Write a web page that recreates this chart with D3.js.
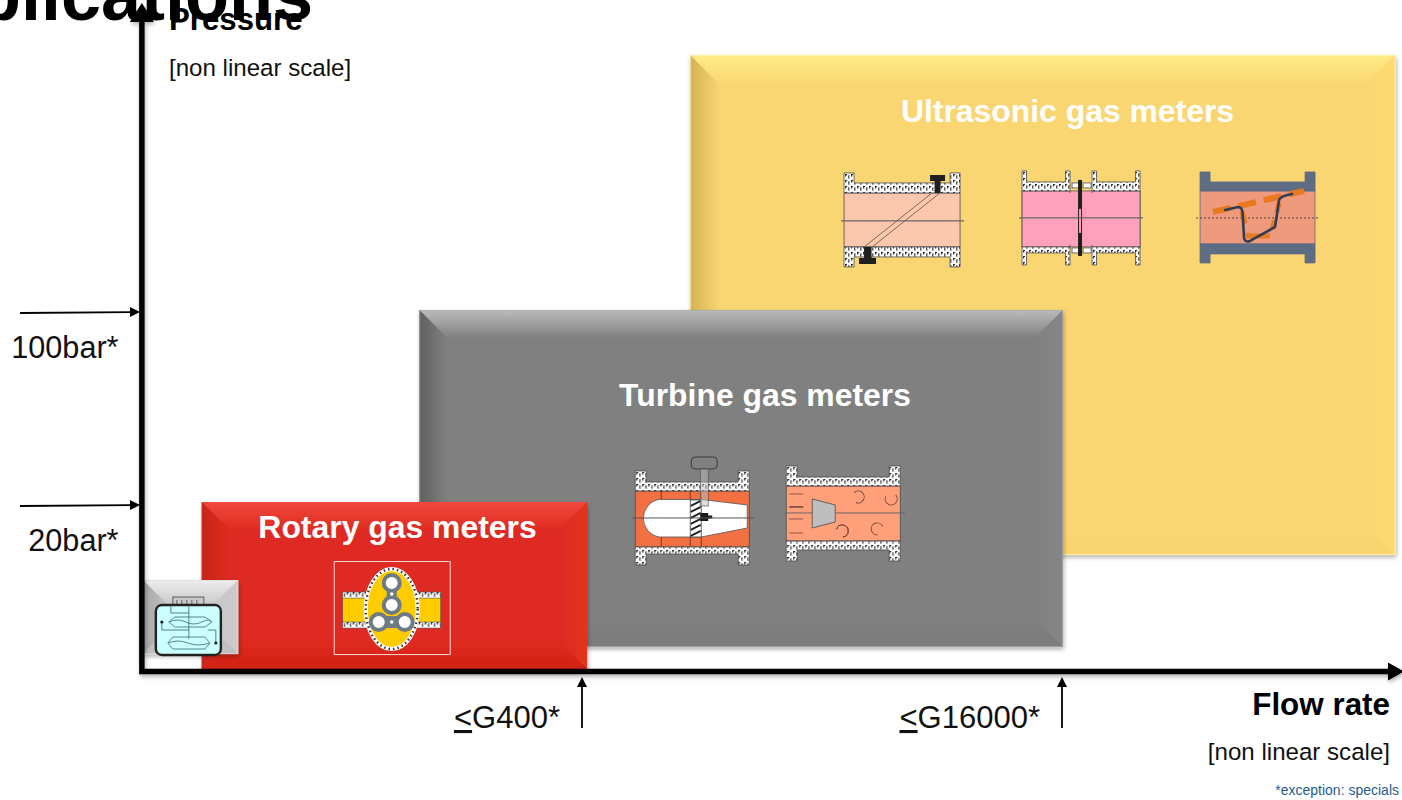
<!DOCTYPE html>
<html>
<head>
<meta charset="utf-8">
<title>Gas meter applications</title>
<script src="https://cdn.jsdelivr.net/npm/d3@7/dist/d3.min.js"></script>
<style>
  html, body { margin: 0; padding: 0; background: #fff; overflow: hidden; }
  text { font-family: "Liberation Sans", Arial, sans-serif; }
</style>
</head>
<body>
<svg id="chart" width="1402" height="800"></svg>
<script>
// Operating envelope of each meter family: flow (G size) against pressure (bar)
const meterLabels   = ["Ultrasonic gas meters", "Turbine gas meters", "Rotary gas meters", ""];
const flowFrom      = [889, 109, 20.2, 12.8];
const flowTo        = [210000, 16000, 400, 26.8];
const pressureFrom  = [13.18, 6.12, 5.09, 5.77];
const pressureTo    = [853, 101.7, 20.5, 10.7];

const pressureTicks = [100, 20];
const pressureTickLabels = ["100bar*", "20bar*"];
const flowTicks     = [400, 16000];
const flowTickLabels = ["G400*", "G16000*"];

const svg = d3.select("#chart");
const defs = svg.append("defs");

// Both axes are logarithmic, anchored on the two labelled stops
const x = d3.scaleLog().domain([400, 16000]).range([587, 1063]);
const y = d3.scaleLog().domain([20, 100]).range([505, 312]);

const plateStyles = [
  { face: "#F9D672", top: "#FFEC86", left: "#D6B154", right: "#FFDA6E", bottom: "#FAD56E", rim: "#FFF4B0", bevel: 30 },
  { face: "#808080", top: "#BBBBBB", left: "#606060", right: "#868686", bottom: "#7B7B7B", rim: "#ABABAB", bevel: 28 },
  { face: "#DE2B20", top: "#F2483E", left: "#C9261B", right: "#E2321F", bottom: "#D32014", rim: null, bevel: 28 },
  { face: "#C6C6C6", top: "#EDEDED", left: "#A6A6A6", right: "#CCCCCC", bottom: "#BDBDBD", rim: "#E0E0E0", bevel: 27 }
];

// Soft shadow under the plates and axes
const shadow = defs.append("filter").attr("id", "plateShadow")
  .attr("x", "-5%").attr("y", "-5%").attr("width", "110%").attr("height", "112%");
shadow.append("feDropShadow").attr("dx", 1).attr("dy", 2.5)
  .attr("stdDeviation", 2).attr("flood-color", "#000").attr("flood-opacity", 0.3);

// Speckled wall texture for the meter bodies
const wall = defs.append("pattern").attr("id", "wallTexture").attr("patternUnits", "userSpaceOnUse")
  .attr("width", 6).attr("height", 6);
wall.append("rect").attr("width", 6).attr("height", 6).attr("fill", "#fff");
wall.append("path").attr("d", "M1 1v2.6h1.2V2h.8V1zM4 2.4h1.6v1H4.6v1h1v1H4z")
  .attr("fill", "#222");

function gradient(id, dir, from, to) {
  const g = defs.append("linearGradient").attr("id", id);
  const ends = { top: [0, 0, 0, 1], bottom: [0, 1, 0, 0], left: [0, 0, 1, 0], right: [1, 0, 0, 0] }[dir];
  g.attr("x1", ends[0]).attr("y1", ends[1]).attr("x2", ends[2]).attr("y2", ends[3]);
  g.append("stop").attr("offset", 0).attr("stop-color", from);
  g.append("stop").attr("offset", 1).attr("stop-color", to);
}

function bevelPlate(i) {
  const x0 = x(flowFrom[i]), x1 = x(flowTo[i]);
  const y0 = y(pressureTo[i]), y1 = y(pressureFrom[i]);
  const st = plateStyles[i], b = st.bevel;
  const g = svg.append("g").attr("filter", "url(#plateShadow)");

  g.append("rect").attr("x", x0).attr("y", y0).attr("width", x1 - x0).attr("height", y1 - y0).attr("fill", st.face);
  const sides = {
    top:    [[x0, y0], [x1, y0], [x1 - b, y0 + b], [x0 + b, y0 + b]],
    left:   [[x0, y0], [x0 + b, y0 + b], [x0 + b, y1 - b], [x0, y1]],
    right:  [[x1, y0], [x1, y1], [x1 - b, y1 - b], [x1 - b, y0 + b]],
    bottom: [[x0, y1], [x0 + b, y1 - b], [x1 - b, y1 - b], [x1, y1]]
  };
  Object.entries(sides).forEach(([side, pts]) => {
    gradient(`${side}${i}`, side, st[side], st.face);
    g.append("polygon").attr("points", pts.join(" ")).attr("fill", `url(#${side}${i})`);
  });
  if (st.rim) {
    g.append("rect").attr("x", x0 + 0.5).attr("y", y0 + 0.5).attr("width", x1 - x0 - 1).attr("height", y1 - y0 - 1)
      .attr("fill", "none").attr("stroke", st.rim).attr("stroke-opacity", 0.75);
  }
}

// Title running off the top-left corner
svg.append("text").attr("x", 313).attr("y", 20).attr("text-anchor", "end")
  .attr("font-size", 72).attr("font-weight", 700).attr("fill", "#000").text("Applications");

[0, 1, 2, 3].forEach(bevelPlate);

// Flanged pipe section: hatched or solid walls around a coloured bore
function flanged(g, o) {
  const { w, h, fl, wt, bt, bb, wb, bore, wallFill = "url(#wallTexture)", edge = "#4a4a4a" } = o;
  g.append("rect").attr("x", 0).attr("y", bt).attr("width", w).attr("height", bb - bt)
    .attr("fill", bore).attr("stroke", edge).attr("stroke-width", 0.8);
  const upper = [[0, 0], [fl, 0], [fl, wt], [w - fl, wt], [w - fl, 0], [w, 0], [w, bt], [0, bt]];
  const lower = [[0, h], [fl, h], [fl, wb], [w - fl, wb], [w - fl, h], [w, h], [w, bb], [0, bb]];
  [upper, lower].forEach(p => g.append("polygon").attr("points", p.join(" "))
    .attr("fill", wallFill).attr("stroke", edge).attr("stroke-width", 0.8));
}
function line(g, x1, y1, x2, y2, stroke, width, dash) {
  return g.append("line").attr("x1", x1).attr("y1", y1).attr("x2", x2).attr("y2", y2)
    .attr("stroke", stroke).attr("stroke-width", width).attr("stroke-dasharray", dash || null);
}
function poly(g, pts, fill, stroke, width) {
  return g.append("polygon").attr("points", pts.join(" ")).attr("fill", fill)
    .attr("stroke", stroke || "none").attr("stroke-width", width || 0);
}
const icon = (px, py) => svg.append("g").attr("transform", `translate(${px},${py})`);

// Ultrasonic: single diagonal path
(function () {
  const g = icon(x(flowFrom[0]) + 154, y(pressureTo[0]) + 118);
  flanged(g, { w: 116, h: 94, fl: 10, wt: 10, bt: 20, bb: 74, wb: 84, bore: "#FDC7AE" });
  line(g, 88, 20, 20, 74, "#7d6a5e", 1);
  line(g, 96, 20, 28, 74, "#7d6a5e", 1);
  line(g, -3, 48, 120, 48, "#666", 1.2);
  g.append("path").attr("fill", "#1f1f1f").attr("d", "M86 2h15v6h-4.5v12h-6V8H86z");
  g.append("path").attr("fill", "#1f1f1f").attr("d", "M20 74h7.5v11h4.5v6H15v-6h5z");
})();

// Ultrasonic: wafer with central transducer ring
(function () {
  const g = icon(x(flowFrom[0]) + 332, y(pressureTo[0]) + 116);
  g.append("rect").attr("x", 0).attr("y", 20).attr("width", 118).attr("height", 56)
    .attr("fill", "#FFA1BC").attr("stroke", "#555").attr("stroke-width", 0.8);
  const L = icon(x(flowFrom[0]) + 332, y(pressureTo[0]) + 116);
  const R = icon(x(flowFrom[0]) + 402, y(pressureTo[0]) + 116);
  [L, R].forEach(p => {
    flanged(p, { w: 48, h: 94, fl: 4.5, wt: 11, bt: 20, bb: 76, wb: 82, bore: "#FFA1BC" });
  });
  const core = icon(x(flowFrom[0]) + 332, y(pressureTo[0]) + 116);
  core.append("rect").attr("x", 44).attr("y", 22).attr("width", 30).attr("height", 52).attr("fill", "#FFA1BC");
  [[50, 12], [61, 12], [50, 77], [61, 77]].forEach(([bx, by]) =>
    core.append("rect").attr("x", bx).attr("y", by).attr("width", 8).attr("height", 5)
      .attr("fill", "#fff").attr("stroke", "#555").attr("stroke-width", 0.8));
  core.append("rect").attr("x", 56).attr("y", 9).attr("width", 4).attr("height", 76).attr("fill", "#1f1f1f");
  core.append("rect").attr("x", 57).attr("y", 38).attr("width", 2).attr("height", 24).attr("fill", "#FFA1BC");
  line(core, -3, 47, 121, 47, "#666", 1.2);
})();

// Ultrasonic: reflective multi-path body
(function () {
  const g = icon(x(flowFrom[0]) + 510, y(pressureTo[0]) + 117);
  flanged(g, { w: 115, h: 91, fl: 10, wt: 10, bt: 19, bb: 72, wb: 82, bore: "#EF9A7D", wallFill: "#5E6C84", edge: "#5E6C84" });
  line(g, -4, 46, 120, 46, "#444", 1, "2 2");
  line(g, 13, 40, 104, 19, "#E8791F", 6, "18 8");
  line(g, 42, 40, 48, 62, "#E8791F", 5, "12 10");
  line(g, 46, 64, 70, 64, "#E8791F", 5);
  line(g, 72, 58, 80, 28, "#E8791F", 5, "10 8");
  g.append("path").attr("fill", "none").attr("stroke", "#2F3C55").attr("stroke-width", 2.6)
    .attr("stroke-linejoin", "round").attr("stroke-linecap", "round")
    .attr("d", "M25 38L38 35Q42 35 42.5 41L44 66Q45 71 50 69L75 55L79 28Q80 24 92 22");
})();

// Turbine: axial rotor with white hub
(function () {
  const g = icon(x(flowFrom[1]) + 216, y(pressureTo[1]) + 161);
  const bore = "#F37043";
  flanged(g, { w: 114, h: 94, fl: 11, wt: 11, bt: 20, bb: 76, wb: 83, bore });
  [26, 55, 66].forEach(vx => line(g, vx, 20, vx, 76, "#7a3b22", 1));
  g.append("path").attr("fill", "#fff").attr("stroke", "#555").attr("stroke-width", 0.8)
    .attr("d", "M24 28.5H66L112 34V57L66 66H24A19 19 0 0 1 24 28.5Z");
  const hatch = d3.range(30, 66, 6);
  g.append("rect").attr("x", 55).attr("y", 29).attr("width", 11).attr("height", 37).attr("fill", "#fff").attr("stroke", "#444").attr("stroke-width", 0.8);
  hatch.forEach(hy => line(g, 55.5, hy + 5, 65.5, hy, "#222", 2));
  g.append("rect").attr("x", 56).attr("y", -14).attr("width", 26).attr("height", 12).attr("rx", 4)
    .attr("fill", "#808080").attr("stroke", "#333").attr("stroke-width", 0.9);
  g.append("rect").attr("x", 65).attr("y", -2).attr("width", 8).attr("height", 37).attr("fill", "#bbb").attr("fill-opacity", 0.5).attr("stroke", "#555").attr("stroke-width", 0.7);
  g.append("path").attr("fill", "#1a1a1a").attr("d", "M65 42h8v2.5h4v3h-4V50h-8z");
  line(g, -3, 47, 119, 47, "#555", 1);
})();

// Turbine: conical hub with swirl marks
(function () {
  const g = icon(x(flowFrom[1]) + 367, y(pressureTo[1]) + 156);
  flanged(g, { w: 114, h: 95, fl: 11, wt: 11, bt: 20, bb: 75, wb: 84, bore: "#FFA07A" });
  [[28, "#8c5a44"], [41, "#1a1a1a"], [53, "#8c5a44"], [67, "#8c5a44"]].forEach(([ly, c]) => line(g, 3, ly, 17, ly, c, 1));
  line(g, -3, 47, 119, 47, "#666", 1);
  poly(g, [[26, 33], [49, 39], [49, 56], [26, 62]], "#BEBEBE", "#555", 0.9);
  [[72, 31, -60], [105, 33, 30], [56, 65, -90], [91, 63, 160]].forEach(([ax, ay, rot]) => {
    g.append("path").attr("fill", "none").attr("stroke", "#7a4a38").attr("stroke-width", 1)
      .attr("transform", `translate(${ax},${ay}) rotate(${rot})`)
      .attr("d", d3.arc()({ innerRadius: 6, outerRadius: 6, startAngle: 0.3, endAngle: 4.6 }));
  });
})();

// Rotary: twin-lobe rotor in a framed housing
(function () {
  const g = icon(x(flowFrom[2]) + 132, y(pressureTo[2]) + 59);
  g.append("rect").attr("x", 0.5).attr("y", 0.5).attr("width", 116).attr("height", 93)
    .attr("fill", "none").attr("stroke", "#f4d5d2").attr("stroke-width", 1);
  g.append("rect").attr("x", 9).attr("y", 36).attr("width", 98).attr("height", 26).attr("fill", "#FFCC00").attr("stroke", "#555").attr("stroke-width", 0.6);
  [[9, 31], [82, 31], [9, 61], [82, 61]].forEach(([fx, fy]) =>
    g.append("rect").attr("x", fx).attr("y", fy).attr("width", 25).attr("height", 6).attr("fill", "url(#wallTexture)").attr("stroke", "#555").attr("stroke-width", 0.6));
  g.append("ellipse").attr("cx", 58).attr("cy", 48).attr("rx", 26).attr("ry", 40)
    .attr("fill", "#FFCC00").attr("stroke", "#fff").attr("stroke-width", 4);
  g.append("ellipse").attr("cx", 58).attr("cy", 48).attr("rx", 26).attr("ry", 40)
    .attr("fill", "none").attr("stroke", "#333").attr("stroke-width", 2.4).attr("stroke-dasharray", "1.5 3");
  const gray = "#6E7B85";
  line(g, 58, 22, 58, 44, gray, 10);
  line(g, 45, 61, 71, 61, gray, 12);
  [[58, 22], [58, 44], [45, 61], [71, 61]].forEach(([cx, cy]) =>
    g.append("circle").attr("cx", cx).attr("cy", cy).attr("r", 8).attr("fill", "#fff").attr("stroke", gray).attr("stroke-width", 4));
  [[58, 33], [58, 61]].forEach(([cx, cy]) =>
    g.append("circle").attr("cx", cx).attr("cy", cy).attr("r", 1.8).attr("fill", "#fff"));
})();

// Diaphragm: bellows chambers in a small blue housing
(function () {
  const g = icon(x(flowFrom[3]) + 13, y(pressureTo[3]) + 17);
  g.append("rect").attr("x", 17).attr("y", 0).attr("width", 31).attr("height", 8).attr("fill", "#c9c9c9").attr("stroke", "#444").attr("stroke-width", 0.8);
  d3.range(21, 46, 5).forEach(tx => line(g, tx, 3, tx, 8, "#444", 0.8));
  g.append("rect").attr("x", 0).attr("y", 8).attr("width", 65).attr("height", 50).attr("rx", 6)
    .attr("fill", "#CCFFFF").attr("stroke", "#222").attr("stroke-width", 2.4);
  const teal = "#4F8C90";
  poly(g, [[13, 25], [19, 20], [49, 20], [56, 25], [49, 30], [19, 30]], "none", teal, 1);
  poly(g, [[12, 46], [17, 40], [49, 40], [54, 46], [49, 52], [17, 52]], "none", teal, 1);
  g.append("path").attr("fill", "none").attr("stroke", teal).attr("stroke-width", 1)
    .attr("d", "M13 25Q22 21 30 25T46 25T56 25M12 46Q22 42 32 46T54 46");
  g.append("path").attr("fill", "none").attr("stroke", "#2f6468").attr("stroke-width", 0.8)
    .attr("d", "M6 25V33H33M33 8V42M52 33H60V46M15 8V16H33");
  [[6, 25], [60, 46]].forEach(([cx, cy]) => g.append("circle").attr("cx", cx).attr("cy", cy).attr("r", 1.6).attr("fill", "#222"));
})();

// Axes with arrowheads
const axes = svg.append("g").attr("filter", "url(#plateShadow)");
const originX = x(flowFrom[3]) - 1, originY = 671.5;
axes.append("path").attr("d", d3.line()([[originX, 12], [originX, originY], [1392, originY]]))
  .attr("fill", "none").attr("stroke", "#000").attr("stroke-width", 5.5).attr("stroke-linecap", "square");
poly(axes, [[originX, 3], [originX + 12, 22], [originX - 12, 22]], "#000");
poly(axes, [[1404, originY], [1388, originY + 9], [1388, originY - 9]], "#000");

// Pressure stops: horizontal arrows pointing into the vertical axis
function arrow(g, x1, y1, x2, y2) {
  const a = Math.atan2(y2 - y1, x2 - x1), L = 10, W = 5;
  const bx = x2 - L * Math.cos(a), by = y2 - L * Math.sin(a);
  line(g, x1, y1, bx, by, "#000", 1.8);
  poly(g, [[x2, y2], [bx - W * Math.sin(a), by + W * Math.cos(a)], [bx + W * Math.sin(a), by - W * Math.cos(a)]], "#000");
}
const stops = svg.append("g");
pressureTicks.forEach((p, i) => {
  arrow(stops, 20, y(p) + 1, 140, y(p));
  stops.append("text").attr("x", 118.5).attr("y", y(p) + 45.5).attr("text-anchor", "end")
    .attr("font-size", 30.6).attr("fill", "#111").text(pressureTickLabels[i]);
});
flowTicks.forEach((f, i) => {
  const ax = x(f) - (i === 0 ? 5 : 1);
  arrow(stops, ax, 728, ax, 677);
  const t = stops.append("text").attr("x", ax - 22).attr("y", 728).attr("text-anchor", "end")
    .attr("font-size", 31).attr("fill", "#111");
  t.append("tspan").attr("text-decoration", "underline").text("<");
  t.append("tspan").text(flowTickLabels[i]);
});

// Plate captions
const captionPos = [[1067.5, 122], [765, 406], [397.5, 538]];
meterLabels.slice(0, 3).forEach((label, i) => {
  svg.append("text").attr("x", captionPos[i][0]).attr("y", captionPos[i][1]).attr("text-anchor", "middle")
    .attr("font-size", 31.9).attr("font-weight", 700).attr("fill", "#fff").text(label);
});

// Axis titles and footnote
const note = (tx, ty, size, str, opts = {}) => svg.append("text").attr("x", tx).attr("y", ty)
  .attr("font-size", size).attr("font-weight", opts.bold ? 700 : 400)
  .attr("text-anchor", opts.anchor || "start").attr("fill", opts.fill || "#111").text(str);
note(169, 30, 31.2, "Pressure", { bold: true, fill: "#000" });
note(169, 76, 24.1, "[non linear scale]");
note(1390, 715, 31.4, "Flow rate", { bold: true, anchor: "end", fill: "#000" });
note(1390, 760, 24.1, "[non linear scale]", { anchor: "end" });
note(1399, 795, 14, "*exception: specials", { anchor: "end", fill: "#1F5C8C" });
</script>
</body>
</html>
